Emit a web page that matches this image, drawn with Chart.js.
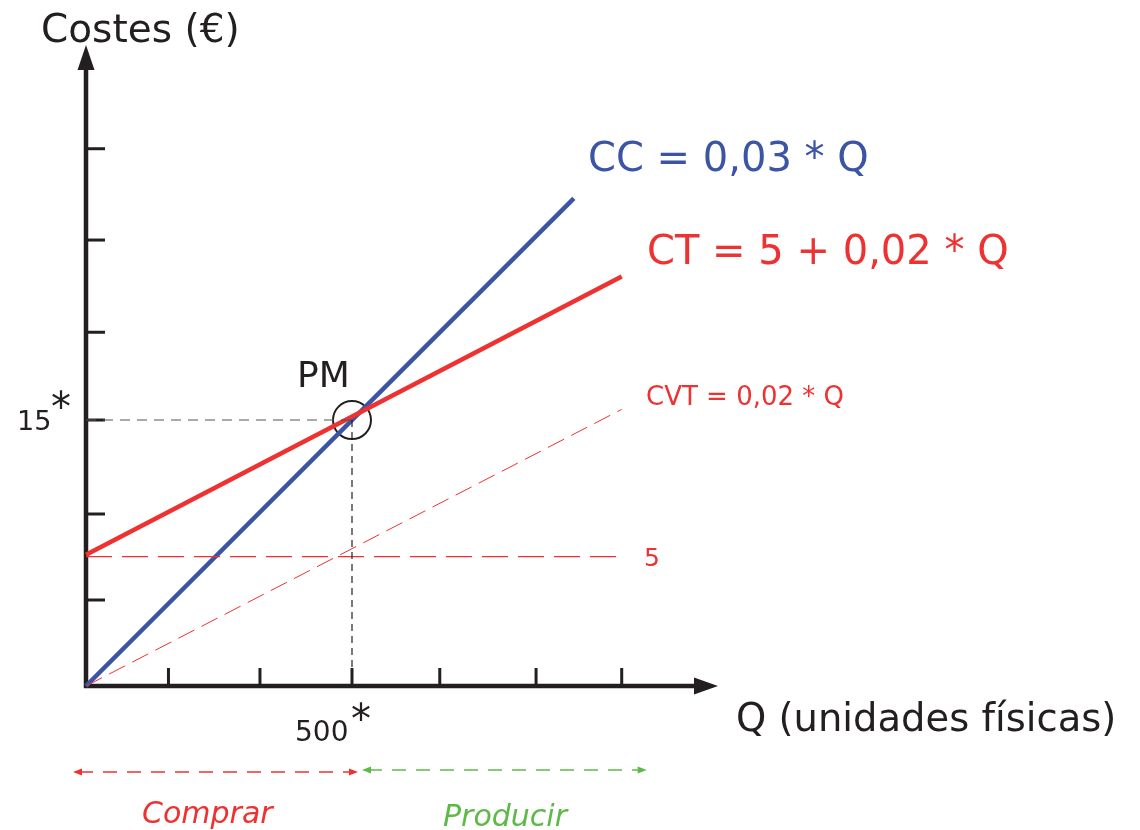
<!DOCTYPE html>
<html>
<head>
<meta charset="utf-8">
<script src="https://cdn.jsdelivr.net/npm/chart.js@4.4.1/dist/chart.umd.min.js"></script>
<style>
  html, body { margin: 0; padding: 0; background: #fff; }
  canvas { display: block; }
</style>
</head>
<body>
<canvas id="chart" width="1140" height="830"></canvas>
<script>
"use strict";

// Datos (Q en unidades, costes en €)
const ccQ = [0, 917];
const ccCost = [0, 27.5];
const ctQ = [0, 1007];
const ctCost = [7.4, 23.1];
const cvtQ = [0, 1007];
const cvtCost = [0, 15.6];
const fijoQ = [0, 1007];
const fijoCost = [7.3, 7.3];
const pmQ = 500;
const pmCost = 15;
const xTicks = [155, 327, 500, 665, 846, 1007];
const yTicks = [4.85, 9.7, 15, 19.95, 25.15, 30.3];

const AZUL = '#3b54a4';
const ROJO = '#ee3131';
const VERDE = '#5dba47';
const NEGRO = '#231f20';
const FUENTE = '"DejaVu Sans", Verdana, sans-serif';

function puntos(xs, ys) {
    return xs.map((x, i) => ({ x: x, y: ys[i] }));
}

function flecha(ctx, x, y, ang, largo, ancho) {
    ctx.save();
    ctx.translate(x, y);
    ctx.rotate(ang);
    ctx.beginPath();
    ctx.moveTo(0, 0);
    ctx.lineTo(-largo, -ancho);
    ctx.lineTo(-largo, ancho);
    ctx.closePath();
    ctx.fill();
    ctx.restore();
}

// Ejes con flechas y marcas
const ejes = {
    id: 'ejes',
    beforeDatasetsDraw(chart) {
        const ctx = chart.ctx;
        const a = chart.chartArea;
        const sx = chart.scales.x;
        const sy = chart.scales.y;
        ctx.save();
        ctx.strokeStyle = NEGRO;
        ctx.fillStyle = NEGRO;

        // marcas
        ctx.lineWidth = 3;
        xTicks.forEach((v) => {
            const px = sx.getPixelForValue(v);
            ctx.beginPath();
            ctx.moveTo(px, a.bottom);
            ctx.lineTo(px, a.bottom - 18);
            ctx.stroke();
        });
        yTicks.forEach((v) => {
            const py = sy.getPixelForValue(v);
            ctx.beginPath();
            ctx.moveTo(a.left, py);
            ctx.lineTo(a.left + 19, py);
            ctx.stroke();
        });

        // ejes
        ctx.lineWidth = 4.5;
        ctx.beginPath();
        ctx.moveTo(a.left, a.bottom + 2);
        ctx.lineTo(a.left, a.top + 20);
        ctx.moveTo(a.left - 2, a.bottom);
        ctx.lineTo(a.right - 20, a.bottom);
        ctx.stroke();
        flecha(ctx, a.left, a.top, -Math.PI / 2, 25, 8.5);
        flecha(ctx, a.right, a.bottom, 0, 24, 8.5);
        ctx.restore();
    },
    afterDraw(chart) {
        const ctx = chart.ctx;
        const sx = chart.scales.x;
        ctx.save();
        ctx.textBaseline = 'alphabetic';
        ctx.textAlign = 'left';

        function texto(t, x, y, size, color, estilo) {
            ctx.font = (estilo || '') + ' ' + size + 'px ' + FUENTE;
            ctx.fillStyle = color;
            ctx.fillText(t, x, y);
        }

        texto('Costes (€)', 41, 42, 39, NEGRO);
        texto('Q (unidades físicas)', 736, 731, 38.5, NEGRO);
        texto('CC = 0,03 * Q', 588, 171, 40, AZUL);
        texto('CT = 5 + 0,02 * Q', 647, 264, 40, ROJO);
        texto('CVT = 0,02 * Q', 646, 405, 26, ROJO);
        texto('5', 644, 566, 25, ROJO);
        texto('PM', 297, 387, 36, NEGRO);
        texto('15', 17, 430, 27, NEGRO);
        texto('*', 51, 421, 40, NEGRO);
        texto('500', 295, 741, 28, NEGRO);
        texto('*', 351, 733, 40, NEGRO);
        texto('Comprar', 142, 823, 30, ROJO, 'italic');
        texto('Producir', 443, 826, 30, VERDE, 'italic');

        // flechas de decisión (comprar / producir)
        const x0 = sx.getPixelForValue(0);
        const xPm = sx.getPixelForValue(pmQ);
        const xFin = sx.getPixelForValue(ctQ[1]);
        function doble(xa, xb, y, color) {
            ctx.strokeStyle = color;
            ctx.fillStyle = color;
            ctx.lineWidth = 1.6;
            ctx.setLineDash([14, 10]);
            ctx.beginPath();
            ctx.moveTo(xa + 6, y);
            ctx.lineTo(xb - 6, y);
            ctx.stroke();
            ctx.setLineDash([]);
            flecha(ctx, xa, y, Math.PI, 9, 3.5);
            flecha(ctx, xb, y, 0, 9, 3.5);
        }
        doble(x0 - 13, xPm + 6, 772, ROJO);
        doble(xPm + 10, xFin + 25, 770, VERDE);
        ctx.restore();
    }
};

const ctx = document.getElementById('chart');

new Chart(ctx, {
    type: 'scatter',
    data: {
        datasets: [
            {
                // guía horizontal hasta 15*
                data: puntos([0, pmQ], [pmCost, pmCost]),
                showLine: true,
                borderColor: '#555',
                borderWidth: 1.2,
                borderDash: [10, 7],
                pointRadius: 0,
                clip: false
            },
            {
                // guía vertical hasta 500*
                data: puntos([pmQ, pmQ], [pmCost, 0]),
                showLine: true,
                borderColor: NEGRO,
                borderWidth: 1.2,
                borderDash: [7, 5],
                pointRadius: 0,
                clip: false
            },
            {
                // coste fijo = 5
                data: puntos(fijoQ, fijoCost),
                showLine: true,
                borderColor: ROJO,
                borderWidth: 1.2,
                borderDash: [26, 10],
                pointRadius: 0,
                clip: false
            },
            {
                // CVT
                data: puntos(cvtQ, cvtCost),
                showLine: true,
                borderColor: ROJO,
                borderWidth: 1,
                borderDash: [18, 8],
                pointRadius: 0,
                clip: false
            },
            {
                // CT
                data: puntos(ctQ, ctCost),
                showLine: true,
                borderColor: ROJO,
                borderWidth: 4.5,
                pointRadius: 0,
                clip: false
            },
            {
                // CC
                data: puntos(ccQ, ccCost),
                showLine: true,
                borderColor: AZUL,
                borderWidth: 4.5,
                pointRadius: 0,
                clip: false
            },
            {
                // punto muerto
                data: [{ x: pmQ, y: pmCost }],
                showLine: false,
                pointRadius: 19,
                pointBorderWidth: 2,
                pointBorderColor: NEGRO,
                pointBackgroundColor: 'rgba(0,0,0,0)',
                clip: false
            }
        ]
    },
    plugins: [ejes],
    options: {
        responsive: false,
        animation: false,
        events: [],
        layout: {
            padding: { left: 86, right: 1140 - 718, top: 45, bottom: 830 - 686 }
        },
        plugins: {
            legend: { display: false },
            tooltip: { enabled: false }
        },
        scales: {
            x: { type: 'linear', display: false, min: 0, max: 1188 },
            y: { type: 'linear', display: false, min: 0, max: 36.15 }
        }
    }
});
</script>
</body>
</html>
